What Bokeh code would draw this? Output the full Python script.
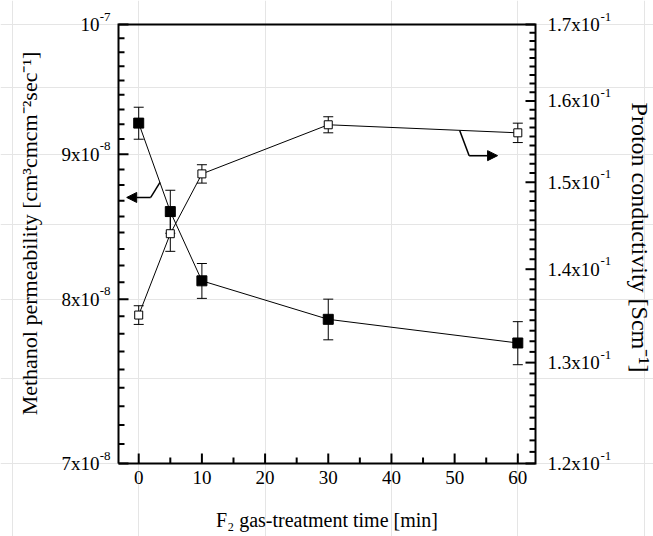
import math
from bokeh.plotting import figure
from bokeh.models import (Range1d, LogScale, ColumnDataSource, Whisker, TeeHead,
                          Arrow, NormalHead)
from bokeh.core.properties import value
from bokeh.embed import file_html
from bokeh.resources import INLINE

# ---- data ----
time_min = [0, 5, 10, 30, 60]
methanol_perm = [9.23e-8, 8.59e-8, 8.12e-8, 7.87e-8, 7.72e-8]
methanol_err = [1.2e-9, 1.5e-9, 1.15e-9, 1.3e-9, 1.35e-9]
proton_cond = [0.1350, 0.1440, 0.1510, 0.1570, 0.1560]
proton_err = [0.0010, 0.0020, 0.0011, 0.0010, 0.0012]

x_ticks = [0, 10, 20, 30, 40, 50, 60]
x_minor_ticks = [5, 15, 25, 35, 45, 55]
x_tick_labels = ["0", "10", "20", "30", "40", "50", "60"]
left_ticks = [7e-8, 8e-8, 9e-8, 1e-7]
left_tick_base = ["7x10", "8x10", "9x10", "10"]
left_tick_sup = ["-8", "-8", "-8", "-7"]
right_ticks = [0.12, 0.13, 0.14, 0.15, 0.16, 0.17]
right_tick_base = ["1.2x10", "1.3x10", "1.4x10", "1.5x10", "1.6x10", "1.7x10"]
right_tick_sup = ["-1", "-1", "-1", "-1", "-1", "-1"]

x_title = "F₂ gas-treatment time [min]"
left_title = "Methanol permeability [cm³cmcm⁻²sec⁻¹]"
right_title = "Proton conductivity [Scm⁻¹]"

# arrow annotations (data coordinates): kink start, corner, tip
left_arrow_x = [3.37, 1.90, -1.90]
left_arrow_y = [8.796e-8, 8.689e-8, 8.689e-8]
right_arrow_x = [50.8, 52.3, 56.8]
right_arrow_y = [0.1563, 0.1532, 0.1532]

# ---- layout (pixels) ----
W, H = 653, 536
BOX_L, BOX_R, BOX_T, BOX_B = 118, 535, 24, 463
X_LO, X_HI = -3.2, 62.8
YL_LO, YL_HI = 7e-8, 1e-7
YR_LO, YR_HI = 0.12, 0.17
FONT = "Liberation Serif"
MAJ, MIN = 10, 6
TW = 1.0  # half tick width in px

ux = (X_HI - X_LO) / (BOX_R - BOX_L)
dL = math.log10(YL_HI / YL_LO) / (BOX_B - BOX_T)
dR = math.log10(YR_HI / YR_LO) / (BOX_B - BOX_T)


def px2x(px):
    return X_LO + (px - BOX_L) * ux


def py2yl(py):
    return 10 ** (math.log10(YL_HI) - (py - BOX_T) * dL)


def py2yr(py):
    return 10 ** (math.log10(YR_HI) - (py - BOX_T) * dR)


def minor_between(ticks, n=8):
    out = []
    for a, b in zip(ticks[:-1], ticks[1:]):
        step = (b - a) / (n + 1)
        out += [a + k * step for k in range(1, n + 1)]
    return out


left_minor = minor_between(left_ticks)
right_minor = minor_between(right_ticks)

p = figure(width=W, height=H,
           x_range=Range1d(px2x(0), px2x(W)),
           y_range=Range1d(py2yl(H), py2yl(0)),
           y_axis_type="log", x_axis_location=None, y_axis_location=None,
           output_backend="svg", toolbar_location=None, min_border=0)
p.y_scale = LogScale()
p.outline_line_color = None
p.background_fill_color = "white"
p.border_fill_color = "white"
p.extra_y_ranges = {"right": Range1d(py2yr(H), py2yr(0))}
p.extra_y_scales = {"right": LogScale()}

# ---- plot box ----
p.line(x=[X_LO, X_HI, X_HI, X_LO, X_LO], y=[YL_LO, YL_LO, YL_HI, YL_HI, YL_LO],
       line_color="black", line_width=2, line_join="miter")

# ---- inward ticks as thin filled bars ----
hw = TW * ux
for ticks, n in ((x_ticks, MAJ), (x_minor_ticks, MIN)):
    p.quad(left=[t - hw for t in ticks], right=[t + hw for t in ticks],
           bottom=[YL_LO] * len(ticks), top=[py2yl(BOX_B - n)] * len(ticks),
           fill_color="black", line_color=None)
for ticks, n in ((left_ticks, MAJ), (left_minor, MIN)):
    p.quad(left=[X_LO] * len(ticks), right=[px2x(BOX_L + n)] * len(ticks),
           bottom=[t / 10 ** (TW * dL) for t in ticks],
           top=[t * 10 ** (TW * dL) for t in ticks],
           fill_color="black", line_color=None)
for ticks, n in ((right_ticks, MAJ), (right_minor, MIN)):
    p.quad(left=[px2x(BOX_R - n)] * len(ticks), right=[X_HI] * len(ticks),
           bottom=[t / 10 ** (TW * dR) for t in ticks],
           top=[t * 10 ** (TW * dR) for t in ticks],
           fill_color="black", line_color=None, y_range_name="right")

# ---- tick labels ----
LBL = value("19px")
SUP = value("13px")
p.text(x=x_ticks, y=[YL_LO] * len(x_ticks), text=x_tick_labels, y_offset=14,
       text_align="center", text_baseline="middle", text_font=value(FONT),
       text_font_size=LBL, text_color="black")
p.text(x=[X_LO] * len(left_ticks), y=left_ticks, text=left_tick_base, x_offset=-19,
       text_align="right", text_baseline="middle", text_font=value(FONT),
       text_font_size=LBL, text_color="black")
p.text(x=[X_LO] * len(left_ticks), y=left_ticks, text=left_tick_sup, x_offset=-8,
       y_offset=-8, text_align="right", text_baseline="middle", text_font=value(FONT),
       text_font_size=SUP, text_color="black")
p.text(x=[X_HI] * len(right_ticks), y=right_ticks, text=right_tick_base, x_offset=12,
       text_align="left", text_baseline="middle", text_font=value(FONT),
       text_font_size=LBL, text_color="black", y_range_name="right")
p.text(x=[X_HI] * len(right_ticks), y=right_ticks, text=right_tick_sup, x_offset=65,
       y_offset=-8, text_align="left", text_baseline="middle", text_font=value(FONT),
       text_font_size=SUP, text_color="black", y_range_name="right")

# ---- axis titles ----
p.text(x=[(X_LO + X_HI) / 2], y=[py2yl(519)], text=[x_title], text_align="center",
       text_baseline="middle", text_font=value(FONT), text_font_size=value("20px"),
       text_color="black")
p.text(x=[px2x(29)], y=[py2yl(233)], text=[left_title], angle=math.pi / 2,
       text_align="center", text_baseline="middle", text_font=value(FONT),
       text_font_size=value("22px"), text_color="black")
p.text(x=[px2x(639)], y=[py2yr(237)], text=[right_title], angle=-math.pi / 2,
       text_align="center", text_baseline="middle", text_font=value(FONT),
       text_font_size=value("24px"), text_color="black", y_range_name="right")

# ---- methanol permeability (filled squares, left axis) ----
src_m = ColumnDataSource(dict(
    x=time_min, y=methanol_perm,
    upper=[v + e for v, e in zip(methanol_perm, methanol_err)],
    lower=[v - e for v, e in zip(methanol_perm, methanol_err)]))
p.add_layout(Whisker(source=src_m, base="x", upper="upper", lower="lower",
                     line_color="black", line_width=1,
                     upper_head=TeeHead(size=10, line_color="black", line_width=1),
                     lower_head=TeeHead(size=10, line_color="black", line_width=1)))
p.line("x", "y", source=src_m, line_color="black", line_width=1)
p.scatter("x", "y", source=src_m, marker="square", size=10,
          fill_color="black", line_color="black")

# ---- proton conductivity (open squares, right axis) ----
src_c = ColumnDataSource(dict(
    x=time_min, y=proton_cond,
    upper=[v + e for v, e in zip(proton_cond, proton_err)],
    lower=[v - e for v, e in zip(proton_cond, proton_err)]))
p.add_layout(Whisker(source=src_c, base="x", upper="upper", lower="lower",
                     y_range_name="right", line_color="black", line_width=1,
                     upper_head=TeeHead(size=10, line_color="black", line_width=1),
                     lower_head=TeeHead(size=10, line_color="black", line_width=1)))
p.line("x", "y", source=src_c, y_range_name="right", line_color="black", line_width=1)
p.scatter("x", "y", source=src_c, y_range_name="right", marker="square", size=8,
          fill_color="white", line_color="black", line_width=1)

# ---- axis indicator arrows ----
p.line(left_arrow_x[:2], left_arrow_y[:2], line_color="black", line_width=1.5)
p.add_layout(Arrow(x_start=left_arrow_x[1], y_start=left_arrow_y[1],
                   x_end=left_arrow_x[2], y_end=left_arrow_y[2],
                   line_color="black", line_width=1.5,
                   end=NormalHead(size=10, fill_color="black", line_color="black")))
p.line(right_arrow_x[:2], right_arrow_y[:2], y_range_name="right",
       line_color="black", line_width=1.5)
p.add_layout(Arrow(x_start=right_arrow_x[1], y_start=right_arrow_y[1],
                   x_end=right_arrow_x[2], y_end=right_arrow_y[2],
                   y_range_name="right", line_color="black", line_width=1.5,
                   end=NormalHead(size=10, fill_color="black", line_color="black")))

open("out.html", "w").write(file_html(p, INLINE))
